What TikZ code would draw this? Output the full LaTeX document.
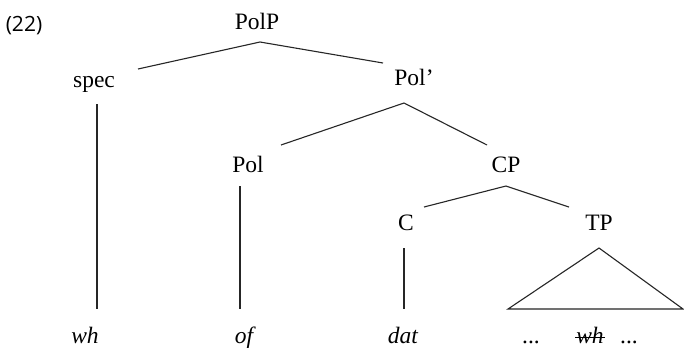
\documentclass[tikz,border=0pt]{standalone}
\usepackage{fontspec}
\setmainfont{Liberation Serif}
\newfontfamily\labelfont{Open Sans}
\begin{document}
\begin{tikzpicture}[x=1pt,y=-1pt,
  lab/.style={anchor=base,inner sep=0pt,font=\fontsize{23.5}{26}\selectfont},
  num/.style={anchor=center,inner sep=0pt,font=\labelfont\fontsize{21}{24}\selectfont},
  branch/.style={line width=1.1pt,black!85}]
\useasboundingbox[fill=white] (0,0) rectangle (684,349);
\node[num] (ex) at (24,26) {(22)};
\node[lab] (polp) at (257,29) {PolP};
\node[lab] (spec) at (94,87) {spec};
\node[lab] (polbar) at (414,85) {Pol’};
\node[lab] (pol) at (248,172) {Pol};
\node[lab] (cp) at (506,172) {CP};
\node[lab] (c) at (406,230) {C};
\node[lab] (tp) at (599,230) {TP};
\node[lab] (w1) at (85,343) {\itshape wh};
\node[lab] (w2) at (244,343) {\itshape of};
\node[lab] (w3) at (403,343) {\itshape dat};
\node[lab] (d1) at (531,343) {...};
\node[lab] (w4) at (590,343) {\itshape wh};
\node[lab] (d2) at (629,343) {...};
\draw[line width=0.9pt] ([xshift=-1pt,yshift=6pt]w4.base west) -- ([xshift=1pt,yshift=6pt]w4.base east);
% coordinates
\coordinate (a1) at (260,42);
\coordinate (a1l) at (138,69);
\coordinate (a1r) at (383,63);
\coordinate (s1) at (97,104);
\coordinate (s2) at (97,309);
\coordinate (a2) at (404,103);
\coordinate (a2l) at (281,145);
\coordinate (a2r) at (487,145);
\coordinate (p1) at (240,186);
\coordinate (p2) at (240,309);
\coordinate (a3) at (506,186);
\coordinate (a3l) at (424,207);
\coordinate (a3r) at (569,207);
\coordinate (c1) at (404,248);
\coordinate (c2) at (404,309);
\coordinate (t1) at (599,248);
\coordinate (t2) at (508,309);
\coordinate (t3) at (683,309);
\draw[branch] (a1l) -- (a1) -- (a1r);
\draw[branch] (s1) -- (s2);
\draw[branch] (a2l) -- (a2) -- (a2r);
\draw[branch] (p1) -- (p2);
\draw[branch] (a3l) -- (a3) -- (a3r);
\draw[branch] (c1) -- (c2);
\draw[branch,line join=miter] (t1) -- (t2) -- (t3) -- cycle;
\end{tikzpicture}
\end{document}
